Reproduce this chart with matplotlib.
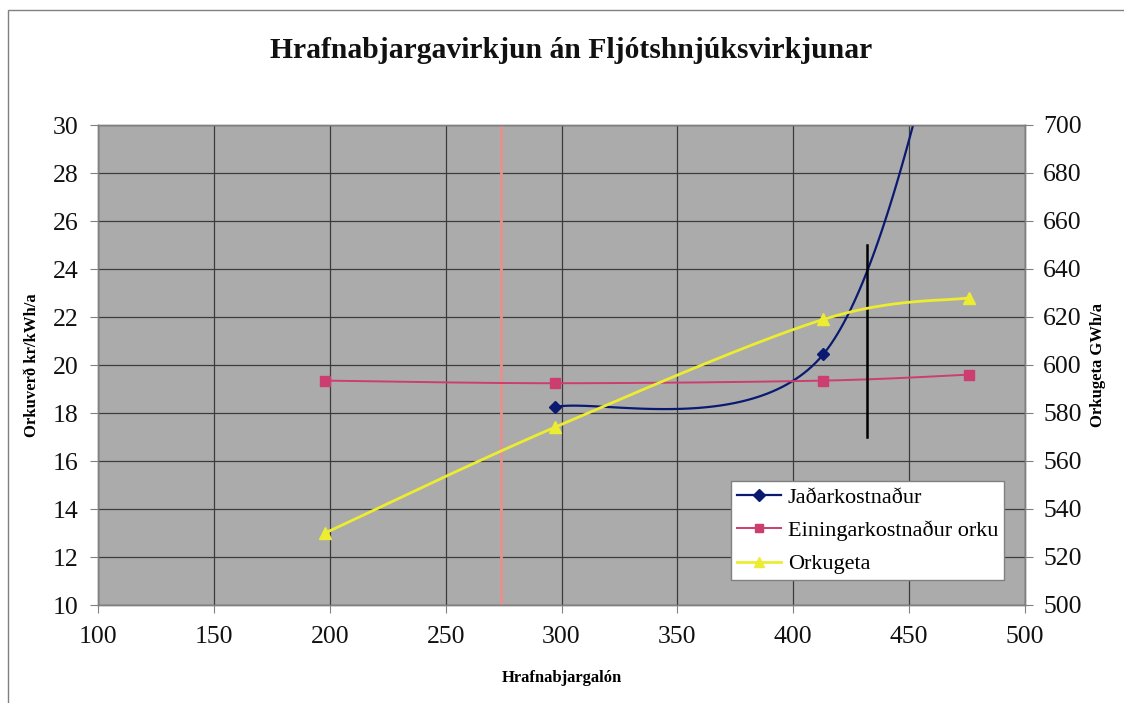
import numpy as np
import matplotlib
matplotlib.use("Agg")
import matplotlib.pyplot as plt
from matplotlib.lines import Line2D
from matplotlib.patches import Rectangle

# ---- data ----
title = "Hrafnabjargavirkjun án Fljótshnjúksvirkjunar"
xlabel = "Hrafnabjargalón"
ylabel_left = "Orkuverð kr/kWh/a"
ylabel_right = "Orkugeta GWh/a"

jadar_x = [297, 413, 476]
jadar_y = [18.25, 20.45, 39.3]

eining_x = [198, 297, 413, 476]
eining_y = [19.35, 19.24, 19.35, 19.6]

orkugeta_x = [198, 297, 413, 476]
orkugeta_y = [530, 574, 619, 628]

series_names = ["Jaðarkostnaður", "Einingarkostnaður orku", "Orkugeta"]

pink_vline_x = 274
black_vline_x = 432
black_vline_y = [17, 25]


def smooth(xs, ys, n=60):
    P = np.column_stack([xs, ys]).astype(float)
    m = len(P)
    out = []
    t = np.linspace(0, 1, n)[:, None]
    for i in range(m - 1):
        p0 = P[i - 1] if i > 0 else P[i]
        p1 = P[i]
        p2 = P[i + 1]
        p3 = P[i + 2] if i + 2 < m else P[i + 1]
        b1 = p1 + (p2 - p0) / 6
        b2 = p2 - (p3 - p1) / 6
        seg = ((1 - t) ** 3) * p1 + 3 * ((1 - t) ** 2) * t * b1 + 3 * (1 - t) * t ** 2 * b2 + t ** 3 * p2
        out.append(seg if i == 0 else seg[1:])
    c = np.vstack(out)
    return c[:, 0], c[:, 1]


plt.rcParams['font.family'] = ['Liberation Serif', 'DejaVu Serif']

W, H = 1124, 703
fig = plt.figure(figsize=(W / 100, H / 100), dpi=100)
fig.patch.set_facecolor("white")

L, R, T, B = 98, 1025, 125, 605
ax = fig.add_axes([L / W, 1 - B / H, (R - L) / W, (B - T) / H])
ax2 = ax.twinx()

ax.set_facecolor("#ababab")
ax.set_xlim(100, 500)
ax.set_ylim(10, 30)
ax2.set_ylim(500, 700)
ax.set_xticks(np.arange(100, 501, 50))
ax.set_yticks(np.arange(10, 31, 2))
ax2.set_yticks(np.arange(500, 701, 20))

ax.grid(True, color="#3c3c3c", linewidth=0.9)
ax.set_axisbelow(True)

for a in (ax, ax2):
    for s in a.spines.values():
        s.set_color("#808080")
        s.set_linewidth(1.0)

ax.tick_params(axis="both", labelsize=18.5, length=6, color="#808080", pad=8, labelcolor="#111111")
ax.tick_params(axis="x", pad=9)
ax2.tick_params(axis="y", labelsize=18.5, length=6, color="#808080", pad=7, labelcolor="#111111")

# pink reference line
ax.axvline(pink_vline_x, color="#e9908c", linewidth=2.0, zorder=2)

navy = "#0a1a70"
pink = "#cc3d70"
yellow = "#ecec30"

# Jadarkostnadur
sx, sy = smooth(jadar_x, jadar_y)
ax.plot(sx, sy, color=navy, linewidth=1.6, zorder=4)
ax.plot(jadar_x, jadar_y, linestyle="none", marker="D", markersize=6, color=navy, zorder=5)

# Einingarkostnadur
sx, sy = smooth(eining_x, eining_y)
ax.plot(sx, sy, color=pink, linewidth=1.4, zorder=4)
ax.plot(eining_x, eining_y, linestyle="none", marker="s", markersize=7, color=pink, zorder=5)

# black vertical line
ax.plot([black_vline_x, black_vline_x], black_vline_y, color="black", linewidth=1.8, zorder=6)

# Orkugeta
sx, sy = smooth(orkugeta_x, orkugeta_y)
ax2.plot(sx, sy, color=yellow, linewidth=2.0, zorder=4)
ax2.plot(orkugeta_x, orkugeta_y, linestyle="none", marker="^", markersize=8, color=yellow, zorder=5)

ax.set_xlabel(xlabel, fontsize=12, fontweight="bold", labelpad=16)
ax.set_ylabel(ylabel_left, fontsize=12, fontweight="bold", labelpad=9)
ax2.set_ylabel(ylabel_right, fontsize=12, fontweight="bold", labelpad=6)

fig.text(571 / W, 1 - 51 / H, title, ha="center", va="center", fontsize=21.3, fontweight="bold", color="#111111")

handles = [
    Line2D([], [], color=navy, marker="D", markersize=6, linewidth=1.6),
    Line2D([], [], color=pink, marker="s", markersize=6, linewidth=1.4),
    Line2D([], [], color=yellow, marker="^", markersize=7, linewidth=2.0),
]
leg = ax2.legend(handles, series_names, loc="lower right", bbox_to_anchor=(0.977, 0.052),
                 fontsize=16, frameon=True, fancybox=False, framealpha=1, edgecolor="#808080",
                 handlelength=2.0, handletextpad=0.3, borderpad=0.25, labelspacing=0.58,
                 borderaxespad=0)
leg.get_frame().set_linewidth(1.0)
leg.set_zorder(10)

# outer chart border
fig.patches.append(Rectangle((8 / W, -0.05), 1.2, 1.05 - 9.5 / H, transform=fig.transFigure,
                             fill=False, edgecolor="#808080", linewidth=1.0))

fig.savefig("out.png", dpi=100, facecolor="white")
